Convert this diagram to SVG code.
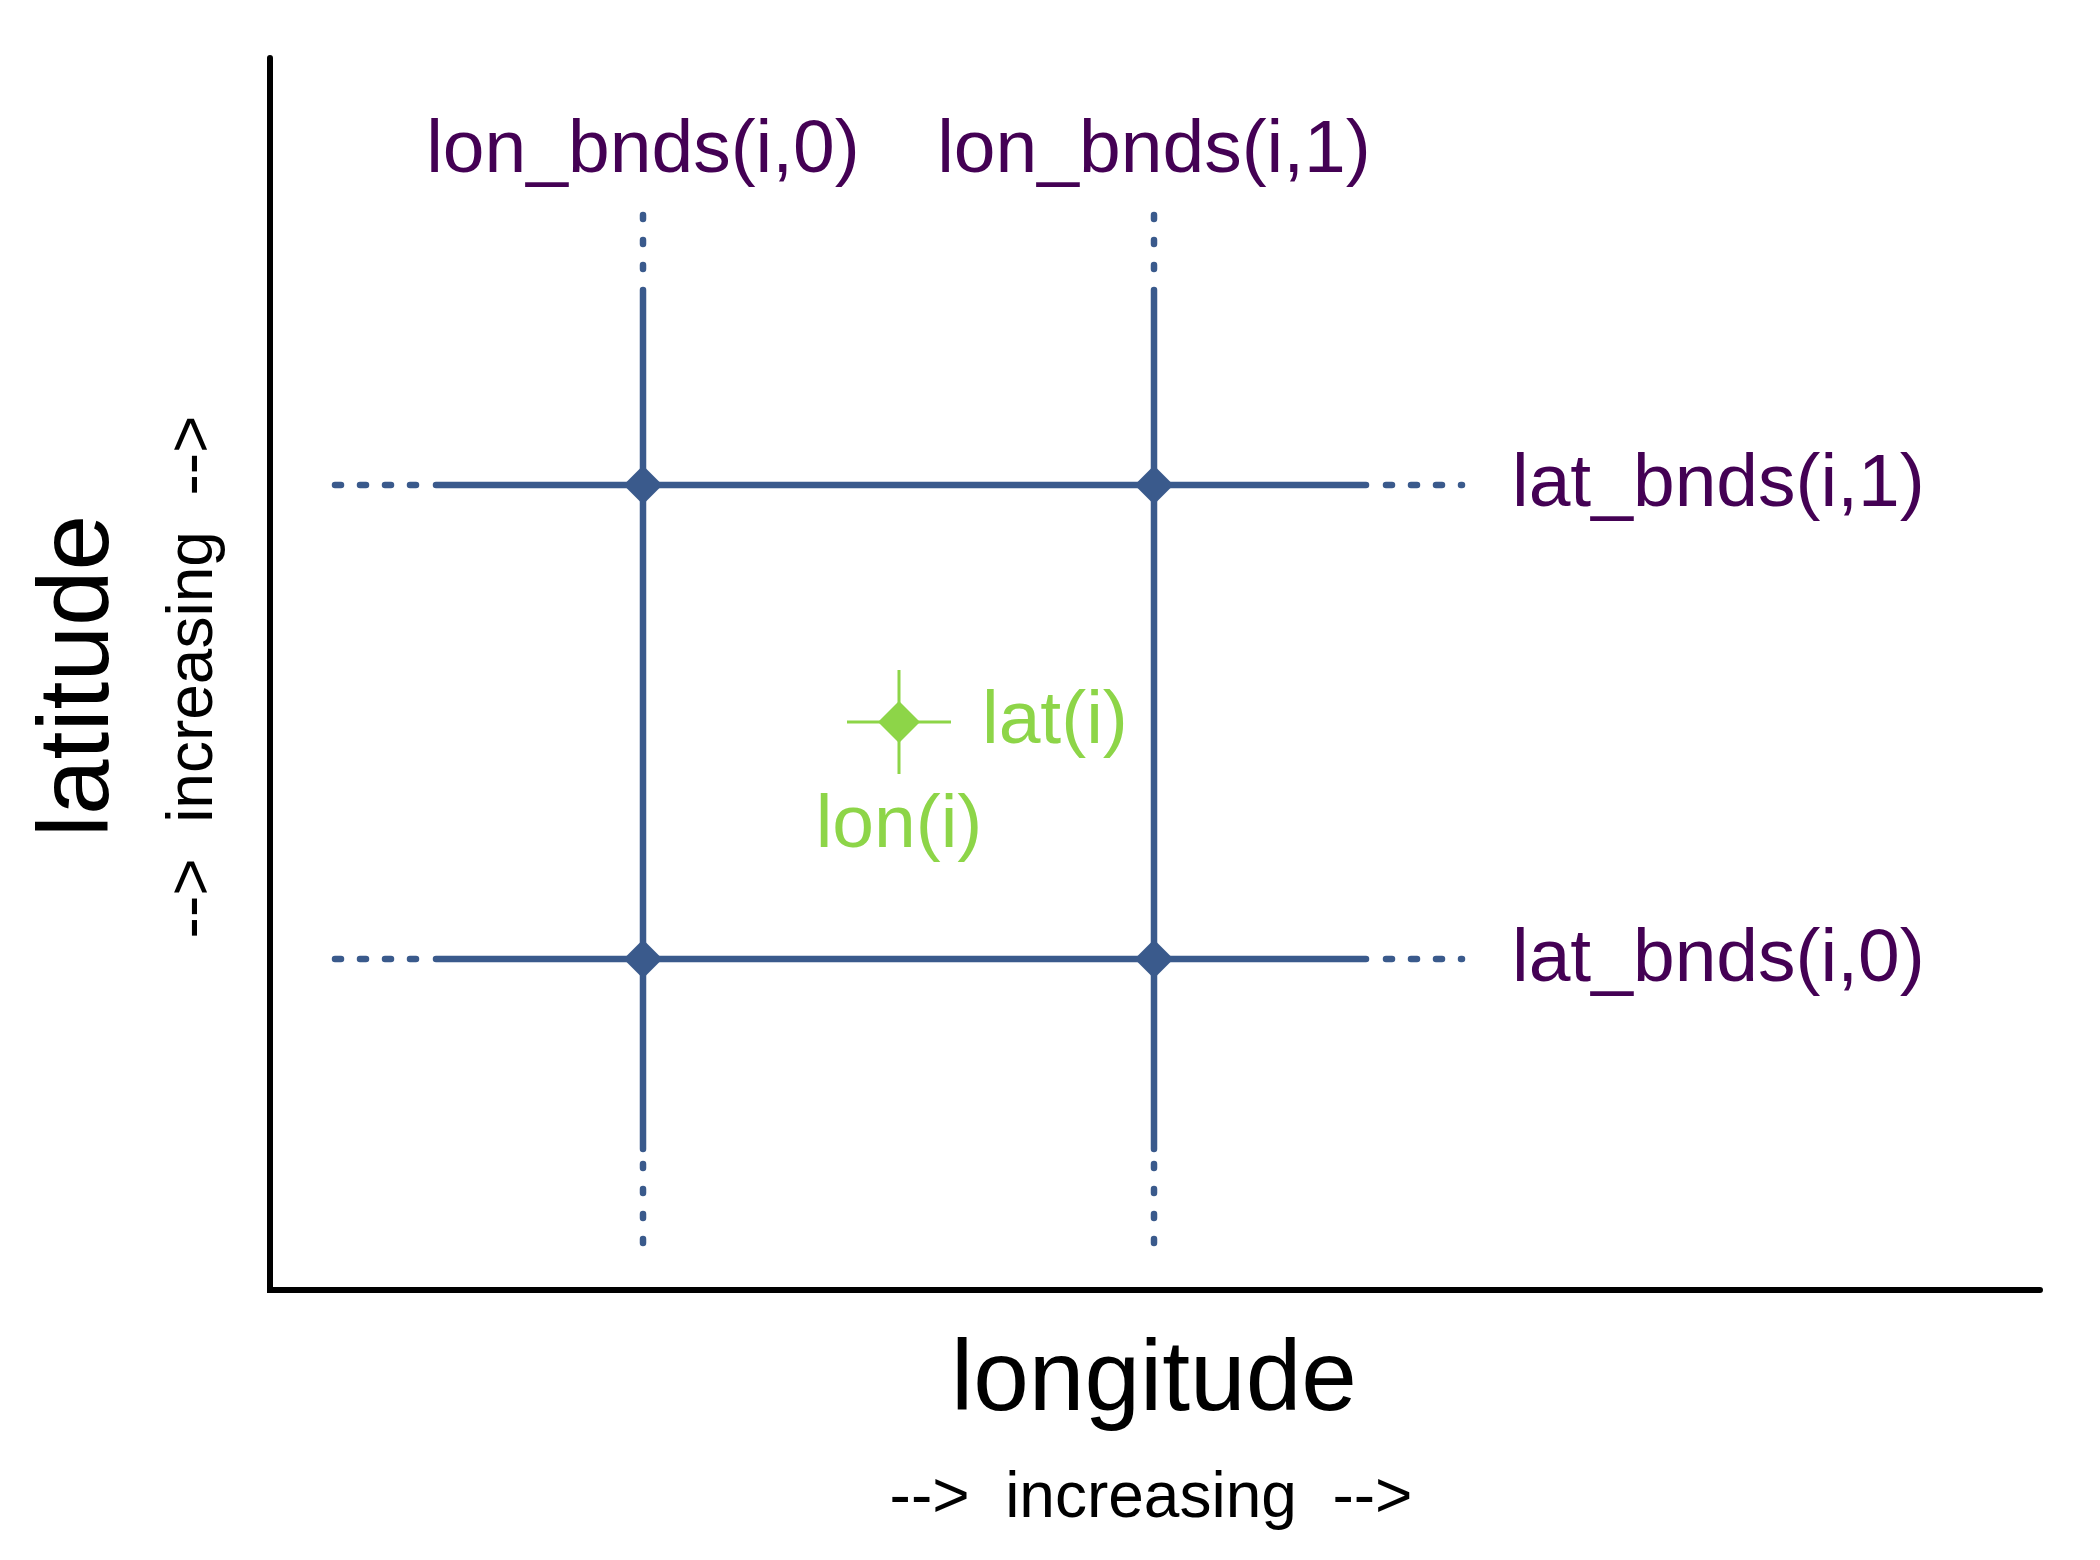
<svg xmlns="http://www.w3.org/2000/svg" width="2100" height="1560" viewBox="0 0 2100 1560">
<style>
.axis{fill:none;stroke:#000;stroke-width:6;stroke-linecap:round;stroke-linejoin:miter}
.grid{fill:none;stroke:#3A5A8C;stroke-width:6.5;stroke-linecap:round}
.dashv{stroke-dasharray:4 21}
.dashh{stroke-dasharray:6 19}
.vtx{fill:#3A5A8C}
.pt{fill:#8DD548}
.ptx{stroke:#8DD548;stroke-width:3;fill:none}
.lbl{font-family:"Liberation Sans",Arial,Helvetica,sans-serif;font-size:75px;fill:#440154}
.glbl{font-family:"Liberation Sans",Arial,Helvetica,sans-serif;font-size:75px;fill:#8DD548}
.ax{font-family:"Liberation Sans",Arial,Helvetica,sans-serif;font-size:100px;fill:#000}
.inc{font-family:"Liberation Sans",Arial,Helvetica,sans-serif;font-size:64px;fill:#000;white-space:pre}
</style>
<rect width="2100" height="1560" fill="#fff"/>
<g id="axes">
<path class="axis" d="M270,58 V1290 H2040"/>
<text class="ax" x="1154" y="1410" text-anchor="middle">longitude</text>
<text class="inc" x="1151" y="1517" text-anchor="middle" xml:space="preserve">-->  increasing  --></text>
<text class="ax" x="108" y="676" text-anchor="middle" transform="rotate(-90 108 676)">latitude</text>
<text class="inc" x="212" y="677" text-anchor="middle" transform="rotate(-90 212 677)" xml:space="preserve">-->  increasing  --></text>
</g>
<g id="connectors">
<line class="grid" x1="643" y1="290" x2="643" y2="1149"/>
<line class="grid" x1="1154" y1="290" x2="1154" y2="1149"/>
<line class="grid" x1="436" y1="485" x2="1366" y2="485"/>
<line class="grid" x1="436" y1="959" x2="1366" y2="959"/>
<line class="grid dashv" x1="643" y1="215" x2="643" y2="269"/>
<line class="grid dashv" x1="1154" y1="215" x2="1154" y2="269"/>
<line class="grid dashv" x1="643" y1="1164" x2="643" y2="1243"/>
<line class="grid dashv" x1="1154" y1="1164" x2="1154" y2="1243"/>
<line class="grid dashh" x1="335" y1="485" x2="416" y2="485"/>
<line class="grid dashh" x1="335" y1="959" x2="416" y2="959"/>
<line class="grid dashh" x1="1386" y1="485" x2="1462" y2="485"/>
<line class="grid dashh" x1="1386" y1="959" x2="1462" y2="959"/>
</g>
<g id="v00"><path class="vtx" d="M643,465.5 L662.5,485 L643,504.5 L623.5,485 Z"/></g>
<g id="v10"><path class="vtx" d="M1154,465.5 L1173.5,485 L1154,504.5 L1134.5,485 Z"/></g>
<g id="v01"><path class="vtx" d="M643,939.5 L662.5,959 L643,978.5 L623.5,959 Z"/></g>
<g id="v11"><path class="vtx" d="M1154,939.5 L1173.5,959 L1154,978.5 L1134.5,959 Z"/></g>
<g id="center">
<path class="ptx" d="M847,722 H951 M899,670 V774"/>
<path class="pt" d="M899,701 L920,722 L899,743 L878,722 Z"/>
<text class="glbl" x="982" y="743">lat(i)</text>
<text class="glbl" x="899" y="847" text-anchor="middle">lon(i)</text>
</g>
<g id="lon_bnds0"><text class="lbl" x="643" y="172" text-anchor="middle">lon_bnds(i,0)</text></g>
<g id="lon_bnds1"><text class="lbl" x="1154" y="172" text-anchor="middle">lon_bnds(i,1)</text></g>
<g id="lat_bnds1"><text class="lbl" x="1512" y="506">lat_bnds(i,1)</text></g>
<g id="lat_bnds0"><text class="lbl" x="1512" y="981">lat_bnds(i,0)</text></g>
</svg>
